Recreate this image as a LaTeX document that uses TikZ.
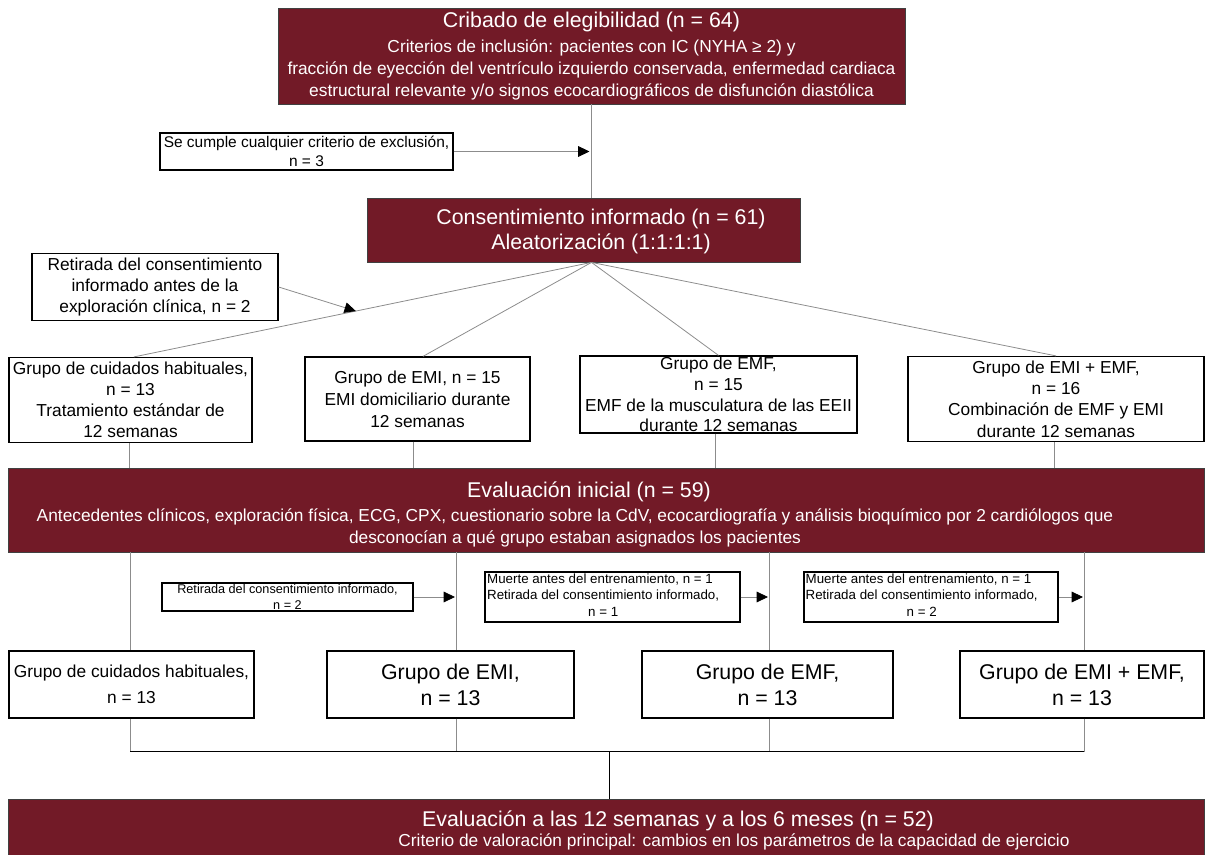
\documentclass[tikz,border=0pt]{standalone}
\usepackage{fontspec}
\setmainfont{Liberation Sans}
\usetikzlibrary{arrows.meta,calc}
\definecolor{maroon}{RGB}{114,26,39}
\definecolor{connc}{RGB}{140,140,140}
\newcommand\fs[2]{\fontsize{#1pt}{#2pt}\selectfont}
\begin{document}
\begin{tikzpicture}[x=0.75pt,y=-0.75pt,
  darkbox/.style={draw=black!75, line width=0.6pt, fill=maroon, text=white, inner sep=0pt, align=center},
  whitebox/.style={draw=black, line width=0.9pt, fill=white, inner sep=0pt, align=center},
  darktext/.style={text=white, inner sep=0pt, align=center},
  conn/.style={draw=connc, line width=0.6pt},
  arr/.style={conn, -{Triangle[color=black,length=8.5pt,width=8pt]}},
]
\path[use as bounding box] (0,0) rectangle (1206,855);

% ---------- boxes ----------
\node[darkbox, minimum width=627*0.75pt, minimum height=96*0.75pt, font=\fs{13}{16.5}] (top) at (591.5,56)
 {{\fs{16}{19}Cribado de elegibilidad (n = 64)}\\[2pt]
  Criterios de inclusión: pacientes con IC (NYHA ≥ 2) y\\
  fracción de eyección del ventrículo izquierdo conservada, enfermedad cardiaca\\
  estructural relevante y/o signos ecocardiográficos de disfunción diastólica};

\node[whitebox, minimum width=293*0.75pt, minimum height=37*0.75pt, font=\fs{11.6}{14.25}] (excl) at (306.5,151.5)
 {Se cumple cualquier criterio de exclusión,\\ n = 3};

\node[darkbox, minimum width=433*0.75pt, minimum height=64*0.75pt] (cons) at (583.5,230) {};
\node[darktext, font=\fs{16}{18.75}] (constxt) at (601,231)
 {Consentimiento informado (n = 61)\\ Aleatorización (1:1:1:1)};

\node[whitebox, minimum width=246*0.75pt, minimum height=67*0.75pt, font=\fs{13}{16}] (ret) at (155,287)
 {Retirada del consentimiento\\ informado antes de la\\ exploración clínica, n = 2};

\node[whitebox, minimum width=243*0.75pt, minimum height=85*0.75pt, font=\fs{13}{15.75}] (g1) at (130.5,400)
 {Grupo de cuidados habituales,\\ n = 13\\ Tratamiento estándar de\\ 12 semanas};
\node[whitebox, minimum width=225*0.75pt, minimum height=84*0.75pt, font=\fs{13}{16.5}] (g2) at (417.5,399)
 {Grupo de EMI, n = 15\\ EMI domiciliario durante\\ 12 semanas};
\node[whitebox, minimum width=277*0.75pt, minimum height=77*0.75pt, font=\fs{13}{15.5}] (g3) at (718.5,394.5)
 {Grupo de EMF,\\ n = 15\\ EMF de la musculatura de las EEII\\ durante 12 semanas};
\node[whitebox, minimum width=296*0.75pt, minimum height=85*0.75pt, font=\fs{13}{16}] (g4) at (1056,399)
 {Grupo de EMI + EMF,\\ n = 16\\ Combinación de EMF y EMI\\ durante 12 semanas};

\node[darkbox, minimum width=1196*0.75pt, minimum height=84*0.75pt] (eval) at (606,510) {};
\node[darktext, font=\fs{13}{16.5}] (evaltxt) at (575,514.5)
 {{\fs{16}{19}\hspace*{21pt}Evaluación inicial (n = 59)}\\[1pt]
  Antecedentes clínicos, exploración física, ECG, CPX, cuestionario sobre la CdV, ecocardiografía y análisis bioquímico por 2 cardiólogos que\\
  desconocían a qué grupo estaban asignados los pacientes};

\node[whitebox, minimum width=251*0.75pt, minimum height=28*0.75pt, font=\fs{9.5}{12}] (r1) at (287.5,597)
 {Retirada del consentimiento informado,\\ n = 2};
\node[whitebox, minimum width=255*0.75pt, minimum height=50*0.75pt, font=\fs{10}{12}] (r2) at (612.5,597)
 {\begin{tabular}{@{}l@{\hspace{14pt}}}Muerte antes del entrenamiento, n = 1\\ Retirada del consentimiento informado,\\[1pt] \multicolumn{1}{@{}c@{\hspace{14pt}}}{n = 1}\end{tabular}};
\node[whitebox, minimum width=254*0.75pt, minimum height=50*0.75pt, font=\fs{10}{12}] (r3) at (931,597)
 {\begin{tabular}{@{}l@{\hspace{14pt}}}Muerte antes del entrenamiento, n = 1\\ Retirada del consentimiento informado,\\[1pt] \multicolumn{1}{@{}c@{\hspace{14pt}}}{n = 2}\end{tabular}};

\node[whitebox, minimum width=245*0.75pt, minimum height=67*0.75pt, font=\fs{13}{19.5}] (f1) at (131.5,684.5)
 {Grupo de cuidados habituales,\\ n = 13};
\node[whitebox, minimum width=247*0.75pt, minimum height=67*0.75pt, font=\fs{16}{19.5}] (f2) at (450.5,684.5)
 {Grupo de EMI,\\ n = 13};
\node[whitebox, minimum width=251*0.75pt, minimum height=67*0.75pt, font=\fs{16}{19.5}] (f3) at (767.5,684.5)
 {Grupo de EMF,\\ n = 13};
\node[whitebox, minimum width=244*0.75pt, minimum height=67*0.75pt, font=\fs{16}{19.5}] (f4) at (1082,684.5)
 {Grupo de EMI + EMF,\\ n = 13};

\node[darkbox, minimum width=1196*0.75pt, minimum height=62*0.75pt] (fin) at (606,830) {};
\node[darktext, font=\fs{16}{19}] (fintitle) at (678,821) {Evaluación a las 12 semanas y a los 6 meses (n = 52)};
\node[darktext, font=\fs{13}{16}] (finsub) at (734,842) {Criterio de valoración principal: cambios en los parámetros de la capacidad de ejercicio};

% ---------- connectors ----------
\coordinate (cs) at (top.south |- cons.south);
\draw[conn] (top.south) -- (top.south |- cons.north);
\draw[arr] (excl.east) -- ($(top.south |- excl.east)+(-2,0)$);

\coordinate (e1) at ([xshift=2.6pt]g1.north);
\coordinate (e2) at ([xshift=4.1pt]g2.north);
\draw[conn] (cs) -- (e1);
\draw[conn] (cs) -- (e2);
\draw[conn] (cs) -- (g3.north);
\draw[conn] (cs) -- (g4.north);
\coordinate (c0) at ($(cs)!0.515!(e1)$);
\draw[arr] (ret.east) -- (c0);

\coordinate (d1) at ([xshift=-1.1pt]g1.south);
\coordinate (d2) at ([xshift=-3.4pt]g2.south);
\coordinate (d3) at ([xshift=-2.6pt]g3.south);
\coordinate (d4) at ([xshift=-1.5pt]g4.south);
\foreach \d in {d1,d2,d3,d4} \draw[conn] (\d) -- (\d |- eval.north);

\coordinate (v1) at ([xshift=-1.1pt]f1.north);
\coordinate (v2) at ([xshift=4.1pt]f2.north);
\coordinate (v3) at ([xshift=1.1pt]f3.north);
\coordinate (v4) at ([xshift=1.5pt]f4.north);
\foreach \v in {v1,v2,v3,v4} \draw[conn] (\v |- eval.south) -- (\v);

\draw[arr] (r1.east) -- ($(v2 |- r1.east)+(-1,0)$);
\draw[arr] (r2.east) -- ($(v3 |- r2.east)+(-1,0)$);
\draw[arr] (r3.east) -- ($(v4 |- r3.east)+(-1,0)$);

\coordinate (h) at ($(f1.south)+(0,33)$);
\foreach \v in {v1,v2,v3,v4} \draw[conn] (\v |- f1.south) -- (\v |- h);
\draw[black, line width=1.3pt] (v1 |- h) -- (v4 |- h);
\coordinate (hm) at (609,751);
\draw[black, line width=0.7pt] (hm |- h) -- (hm |- fin.north);
\end{tikzpicture}
\end{document}
